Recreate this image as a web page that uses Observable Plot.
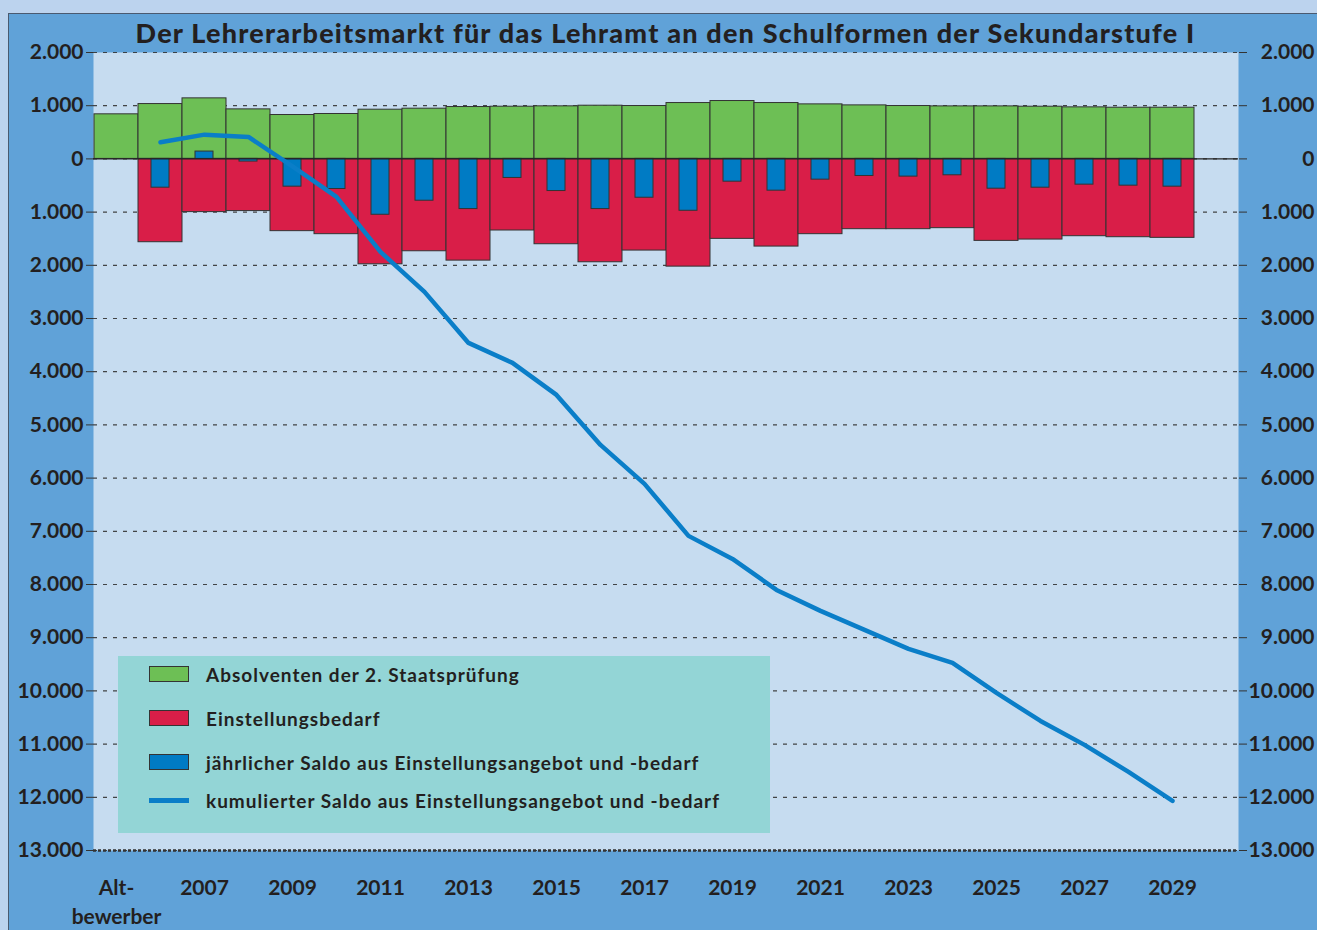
<!DOCTYPE html>
<html><head><meta charset="utf-8">
<script src="https://cdn.jsdelivr.net/npm/d3@7"></script>
<script src="https://cdn.jsdelivr.net/npm/@observablehq/plot@0.6"></script>
<style>
html,body{margin:0;padding:0;}
body{width:1317px;height:930px;position:relative;overflow:hidden;background:#bcd3ee;font-family:Lato,"Open Sans",sans-serif;}
#panel{position:absolute;left:8px;top:13px;width:1309px;height:917px;background:#60a2d8;border-left:1.5px solid #4a5a70;border-top:1.5px solid #4a5a70;}
#title{position:absolute;left:93px;width:1145px;top:15px;height:36px;line-height:36px;text-align:center;font-weight:900;font-size:27px;letter-spacing:1.2px;color:#231f20;white-space:nowrap;}
#chart{position:absolute;left:0;top:38px;}
#legend{position:absolute;left:118px;top:656px;width:652px;height:177px;background:#93d5d6;}
.item{position:absolute;left:31px;height:24px;display:flex;align-items:center;font-weight:bold;font-size:19px;letter-spacing:1px;color:#231f20;white-space:nowrap;}
.sw{width:40px;height:16px;border:1px solid #333;box-sizing:border-box;margin-right:17px;flex:none;}
.ln{width:40px;height:5px;margin-right:17px;flex:none;}
</style>
</head><body>
<div id="panel"></div>
<div id="title">Der Lehrerarbeitsmarkt für das Lehramt an den Schulformen der Sekundarstufe I</div>
<div id="chart"></div>
<div id="legend"></div>
<script>
const categories = ["Altbewerber","2006","2007","2008","2009","2010","2011","2012","2013","2014","2015","2016","2017","2018","2019","2020","2021","2022","2023","2024","2025","2026","2027","2028","2029"];
const absolventen = [838,1031,1138,931,825,844,925,944,975,981,988,1000,994,1050,1088,1050,1025,1006,994,987,987,981,969,962,962];
const einstellungsbedarf = [null,1566,1000,981,1358,1415,1981,1736,1912,1346,1604,1943,1723,2025,1503,1648,1415,1321,1321,1302,1541,1516,1453,1472,1484];
const saldoJaehrlich = [null,-541,138,-50,-522,-566,-1050,-786,-943,-358,-604,-943,-730,-975,-428,-597,-390,-321,-333,-308,-560,-541,-484,-503,-522];
const saldoKumuliert = [null,312,456,412,-140,-714,-1748,-2500,-3459,-3835,-4436,-5376,-6109,-7086,-7519,-8102,-8496,-8853,-9211,-9474,-10038,-10564,-11015,-11523,-12068];
const yTicks = [2000,1000,0,-1000,-2000,-3000,-4000,-5000,-6000,-7000,-8000,-9000,-10000,-11000,-12000,-13000];
const xTicks = ["Altbewerber","2007","2009","2011","2013","2015","2017","2019","2021","2023","2025","2027","2029"];
const seriesNames = ["Absolventen der 2. Staatsprüfung","Einstellungsbedarf","jährlicher Saldo aus Einstellungsangebot und -bedarf","kumulierter Saldo aus Einstellungsangebot und -bedarf"];

const colors = {green:"#6dbf55", red:"#d91e48", blue:"#007bc4", line:"#0a7ec8", bg:"#c6dcf0", ink:"#231f20"};

const data = categories.map((c,i)=>({cat:c, abs:absolventen[i], bed:einstellungsbedarf[i], saldo:saldoJaehrlich[i], kum:saldoKumuliert[i]}));
const fmt = d => d3.format(",")(Math.abs(d)).replace(/,/g,".");

const chart = Plot.plot({
  width:1317, height:892,
  marginTop:14, marginBottom:80, marginLeft:93, marginRight:79,
  style:{background:"transparent", fontFamily:"Lato, sans-serif", fontWeight:"bold", fontSize:"21px", color:colors.ink},
  x:{type:"band", domain:[...categories, "_"], paddingInner:0, paddingOuter:0},
  y:{domain:[-13000,2000]},
  marks:[
    Plot.frame({fill:colors.bg, stroke:null}),
    Plot.gridY(yTicks, {stroke:"#333", strokeOpacity:0.9, strokeWidth:1.2, strokeDasharray:"4,6"}),
    Plot.ruleY([-13000], {stroke:"#333", strokeWidth:2.5, strokeDasharray:"3,2"}),
    Plot.barY(data, {x:"cat", y:"abs", fill:colors.green, stroke:"#333", strokeWidth:1}),
    Plot.barY(data.filter(d=>d.bed!=null), {x:"cat", y:d=>-d.bed, fill:colors.red, stroke:"#333", strokeWidth:1}),
    Plot.barY(data.filter(d=>d.saldo!=null), {x:"cat", y:"saldo", fill:colors.blue, stroke:"#333", strokeWidth:1, insetLeft:13, insetRight:13}),
    Plot.ruleY([0], {stroke:"#222", strokeWidth:1.2}),
    Plot.line(data.filter(d=>d.kum!=null), {x:"cat", y:"kum", stroke:colors.line, strokeWidth:4.5}),
    Plot.axisY(yTicks, {anchor:"left", tickFormat:fmt, tickSize:7, tickPadding:3, line:true, stroke:"#333", label:null, fill:colors.ink, letterSpacing:"1px"}),
    Plot.axisY(yTicks, {anchor:"right", tickFormat:()=>"", tickSize:8, tickPadding:0, line:true, stroke:"#333", label:null}),
    Plot.axisY(yTicks, {anchor:"right", tickFormat:fmt, tickSize:0, tickPadding:0, textAnchor:"end", dx:76, label:null, fill:colors.ink, letterSpacing:"1px"}),
    Plot.axisX(xTicks, {anchor:"bottom", tickSize:0, tickPadding:24, lineHeight:1.38, tickFormat:d=>d==="Altbewerber"?"Alt-\nbewerber":d, label:null, fill:colors.ink, letterSpacing:"0.3px"})
  ]
});
document.getElementById("chart").appendChild(chart);

const legend = document.getElementById("legend");
const tops = [6,50,94,132];
const sw = [colors.green, colors.red, colors.blue, colors.line];
seriesNames.forEach((n,i)=>{
  const it = document.createElement("div");
  it.className="item"; it.style.top = tops[i]+"px";
  const s = document.createElement("div");
  s.className = i===3 ? "ln" : "sw";
  s.style.background = sw[i];
  it.appendChild(s);
  const t = document.createElement("span"); t.textContent = n; it.appendChild(t);
  legend.appendChild(it);
});
</script>
</body></html>
